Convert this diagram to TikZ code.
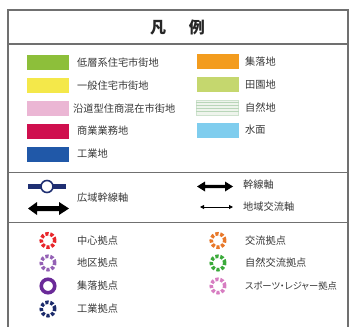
\documentclass[tikz,border=0pt]{standalone}
\usepackage{fontspec}
\setmainfont{Noto Sans CJK JP}
\usetikzlibrary{arrows.meta}
\definecolor{frame}{HTML}{707070}
\definecolor{cLow}{HTML}{8DBF3A}
\definecolor{cGen}{HTML}{F4E84A}
\definecolor{cRoad}{HTML}{EBB6D4}
\definecolor{cCom}{HTML}{CF0F4E}
\definecolor{cInd}{HTML}{2058A8}
\definecolor{cVil}{HTML}{F39C1E}
\definecolor{cRur}{HTML}{C5D76E}
\definecolor{cNatF}{HTML}{EEF4EC}
\definecolor{cNatL}{HTML}{B9D6B9}
\definecolor{cWat}{HTML}{7FCDEE}
\definecolor{cNavy}{HTML}{1F2F72}
\definecolor{rRed}{HTML}{E8262B}
\definecolor{rPur}{HTML}{9461B5}
\definecolor{rDPur}{HTML}{6A2A98}
\definecolor{rNavy}{HTML}{1B2A6B}
\definecolor{rOra}{HTML}{E8782A}
\definecolor{rGre}{HTML}{3AAA3A}
\definecolor{rPin}{HTML}{D77DC1}
\tikzset{
  lbl/.style={anchor=west, inner sep=0pt, font=\fontsize{10.2}{12}\selectfont, text=black!78},
  swatch/.style={minimum width=42pt, minimum height=15pt, inner sep=0pt, draw=none},
  ring/.style={circle, minimum size=13.5pt, inner sep=0pt, line width=3.6pt, dash pattern=on 3.2pt off 1.8pt},
  sep/.style={draw=frame, line width=1.2pt},
}
\begin{document}
\begin{tikzpicture}[x=1pt,y=-1pt]
\useasboundingbox (0,0) rectangle (350,326);
% frame
\draw[sep] (8,330) -- (8,10) -- (348,10) -- (348,330);
\draw[sep] (8,44) -- (348,44);
\draw[sep] (8,172.5) -- (348,172.5);
\draw[sep] (8,222.5) -- (348,222.5);
\node[font=\fontsize{16}{18}\selectfont\bfseries, inner sep=0pt, text=black!85] (title) at (177.5,27) {凡\hspace{23pt}例};
% left swatches
\node[swatch, fill=cLow] (s1) at (48,63) {};
\node[lbl] (t1) at (77,63) {低層系住宅市街地};
\node[swatch, fill=cGen] (s2) at (48,86) {};
\node[lbl] (t2) at (77,86) {一般住宅市街地};
\node[swatch, fill=cRoad] (s3) at (48,108.5) {};
\node[lbl] (t3) at (73,108.5) {沿道型住商混在市街地};
\node[swatch, fill=cCom] (s4) at (48,131) {};
\node[lbl] (t4) at (77,131) {商業業務地};
\node[swatch, fill=cInd] (s5) at (48,154) {};
\node[lbl] (t5) at (77,154) {工業地};
% right swatches
\node[swatch, fill=cVil] (s6) at (217.5,62) {};
\node[lbl] (t6) at (245,62) {集落地};
\node[swatch, fill=cRur] (s7) at (217.5,85) {};
\node[lbl] (t7) at (245,85) {田園地};
\node[swatch, fill=cNatF, draw=cNatL!70, line width=0.4pt] (s8) at (217.5,107.5) {};
\foreach \yy in {102.5,105.5,108.5,111.5}
  \draw[cNatL, line width=0.5pt] (s8.west |- 0,\yy) -- (s8.east |- 0,\yy);
\node[lbl] (t8) at (245,107.5) {自然地};
\node[swatch, fill=cWat] (s9) at (217.5,130) {};
\node[lbl] (t9) at (245,130) {水面};
% axes
\coordinate (wa) at (28,186.5);
\coordinate (wb) at (66,186.5);
\draw[cNavy, line width=5pt] (wa) -- (wb);
\node[circle, draw=cNavy, fill=white, line width=1.6pt, minimum size=12pt, inner sep=0pt] (wc) at (47,186.5) {};
% thick double arrow (wide)
\fill[black] (28,208.5) -- (37,202) -- (37,206) -- (59,206) -- (59,202) -- (69,208.5) -- (59,215) -- (59,211) -- (37,211) -- (37,215) -- cycle;
\node[lbl] (t10) at (77,197.5) {広域幹線軸};
% right axes
\fill[black] (197,186.5) -- (205,181.5) -- (205,184.8) -- (225,184.8) -- (225,181.5) -- (233,186.5) -- (225,191.5) -- (225,188.2) -- (205,188.2) -- (205,191.5) -- cycle;
\node[lbl] (t11) at (243,184.5) {幹線軸};
\coordinate (na) at (200,207);
\coordinate (nb) at (233,207);
\draw[line width=0.9pt, {Triangle[length=4pt,width=4pt]}-{Triangle[length=4pt,width=4pt]}] (na) -- (nb);
\node[lbl] (t12) at (243,206.5) {地域交流軸};
% rings left
\node[ring, draw=rRed] (r1) at (48,240.5) {};
\node[lbl] (u1) at (77,240.5) {中心拠点};
\node[ring, draw=rPur] (r2) at (48,263) {};
\node[lbl] (u2) at (77,263) {地区拠点};
\node[ring, draw=rDPur, solid] (r3) at (48,286) {};
\node[lbl] (u3) at (77,286) {集落拠点};
\node[ring, draw=rNavy] (r4) at (48,309) {};
\node[lbl] (u4) at (77,309) {工業拠点};
% rings right
\node[ring, draw=rOra] (r5) at (218,240.5) {};
\node[lbl] (u5) at (245,240.5) {交流拠点};
\node[ring, draw=rGre] (r6) at (218,263) {};
\node[lbl] (u6) at (245,263) {自然交流拠点};
\node[ring, draw=rPin] (r7) at (218,286) {};
\node[lbl, font=\fontsize{9.3}{11}\selectfont] (u7) at (245,286) {\addfontfeatures{RawFeature=+palt}スポーツ・レジャー拠点};
\end{tikzpicture}
\end{document}
